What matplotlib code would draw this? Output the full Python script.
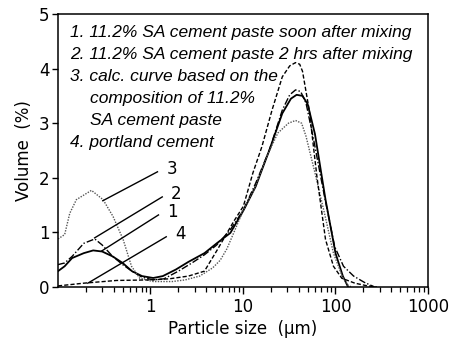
import numpy as np
import matplotlib.pyplot as plt
from matplotlib.ticker import LogLocator, NullFormatter, FixedLocator

# particle size (um) / volume (%) for each curve
x1 = [0.1, 0.118, 0.142, 0.19, 0.24, 0.3, 0.39, 0.5, 0.63, 0.81, 1.07, 1.36, 1.88, 2.57, 3.83, 5.2, 7.3, 10.1, 13.7, 19.2, 26.6, 33.0, 38.0, 44.0, 50.0, 60.0, 78.0, 100.0, 120.0, 137.0]
y1 = [0.29, 0.38, 0.53, 0.62, 0.67, 0.65, 0.56, 0.44, 0.29, 0.2, 0.165, 0.2, 0.32, 0.46, 0.62, 0.8, 0.99, 1.4, 1.84, 2.5, 3.18, 3.45, 3.52, 3.5, 3.35, 2.8, 1.6, 0.62, 0.2, 0.0]

x2 = [0.1, 0.118, 0.142, 0.19, 0.25, 0.3, 0.39, 0.5, 0.63, 0.81, 1.07, 1.4, 2.0, 2.8, 3.83, 5.2, 7.3, 10.1, 13.7, 19.2, 26.6, 32.0, 37.0, 42.0, 48.0, 58.0, 76.0, 98.0, 122.0, 157.0, 205.0, 265.0]
y2 = [0.41, 0.44, 0.56, 0.8, 0.88, 0.77, 0.56, 0.41, 0.29, 0.18, 0.13, 0.15, 0.29, 0.44, 0.59, 0.77, 1.05, 1.41, 1.9, 2.5, 3.24, 3.52, 3.61, 3.58, 3.37, 2.7, 1.66, 0.74, 0.38, 0.2, 0.085, 0.0]

x3 = [0.1, 0.118, 0.134, 0.158, 0.23, 0.307, 0.394, 0.506, 0.623, 0.766, 1.07, 1.72, 2.37, 3.4, 4.7, 5.67, 6.7, 7.93, 10.1, 13.7, 17.4, 23.8, 31.0, 37.0, 43.0, 48.0, 60.0, 76.0, 95.0, 118.0, 135.0, 148.0]
y3 = [0.88, 0.96, 1.35, 1.6, 1.77, 1.6, 1.29, 0.87, 0.38, 0.16, 0.1, 0.1, 0.13, 0.2, 0.35, 0.49, 0.7, 0.99, 1.41, 1.84, 2.33, 2.82, 3.0, 3.05, 3.0, 2.76, 2.09, 1.35, 0.62, 0.2, 0.04, 0.0]

x4 = [0.1, 0.19, 0.43, 1.0, 1.6, 2.57, 3.83, 5.27, 7.93, 10.1, 12.8, 16.0, 20.6, 26.6, 32.0, 37.0, 41.0, 44.0, 52.0, 63.0, 78.0, 95.0, 117.0, 162.0, 222.0, 280.0]
y4 = [0.02, 0.07, 0.12, 0.13, 0.15, 0.2, 0.29, 0.68, 1.2, 1.48, 2.09, 2.57, 3.24, 3.85, 4.05, 4.11, 4.08, 3.95, 3.24, 2.02, 0.87, 0.38, 0.16, 0.07, 0.02, 0.0]

legend_lines = [
    "1. 11.2% SA cement paste soon after mixing",
    "2. 11.2% SA cement paste 2 hrs after mixing",
    "3. calc. curve based on the",
    "composition of 11.2%",
    "SA cement paste",
    "4. portland cement",
]
legend_indent = [False, False, False, True, True, False]

# leader lines: start on the curve, end next to the number
leader_labels = ["3", "2", "1", "4"]
leader_start = [(0.305, 1.58), (0.249, 0.90), (0.297, 0.66), (0.21, 0.07)]
leader_end = [(1.19, 2.11), (1.34, 1.65), (1.22, 1.32), (1.48, 0.92)]

fig = plt.figure(figsize=(4.52, 3.45), dpi=100)
ax = fig.add_axes([58 / 452, 1 - 287 / 345, 370 / 452, 273 / 345])

ax.plot(x1, y1, color="black", lw=1.3, ls="-")
ax.plot(x2, y2, color="black", lw=1.0, ls=(0, (5, 1.5, 1, 1.5)))
ax.plot(x3, y3, color="#555555", lw=1.0, ls=(0, (1, 1)))
ax.plot(x4, y4, color="black", lw=1.0, ls=(0, (3, 1.5)))

for lab, (xs, ys), (xe, ye) in zip(leader_labels, leader_start, leader_end):
    ax.plot([xs, xe], [ys, ye], color="black", lw=1.0)
    ax.text(xe * 1.25, ye + 0.05, lab, fontsize=12, family="DejaVu Sans",
            ha="left", va="center")

for i, (line, ind) in enumerate(zip(legend_lines, legend_indent)):
    ax.text(0.032 + (0.054 if ind else 0), 0.934 - i * 0.0806, line,
            transform=ax.transAxes, fontsize=12.5, style="italic",
            family="Liberation Sans", ha="left", va="center")

ax.set_xscale("log")
ax.set_xlim(0.1, 1000)
ax.set_ylim(0, 5)
ax.xaxis.set_major_locator(FixedLocator([1, 10, 100, 1000]))
ax.set_xticklabels(["1", "10", "100", "1000"])
ax.xaxis.set_minor_locator(LogLocator(base=10, subs=np.arange(2, 10)))
ax.xaxis.set_minor_formatter(NullFormatter())
ax.set_yticks([0, 1, 2, 3, 4, 5])

ax.tick_params(axis="x", which="major", direction="out", length=5, width=1.0,
               pad=3, labelsize=12)
ax.tick_params(axis="x", which="minor", direction="out", length=3.5, width=0.9)
ax.tick_params(axis="y", which="major", direction="out", length=4, width=1.0,
               pad=2, labelsize=12)

for s in ax.spines.values():
    s.set_linewidth(1.1)

ax.set_xlabel("Particle size  (\u00b5m)", fontsize=12, labelpad=3)
ax.set_ylabel("Volume  (%)", fontsize=12, labelpad=4)

fig.savefig("out.png", dpi=100)
